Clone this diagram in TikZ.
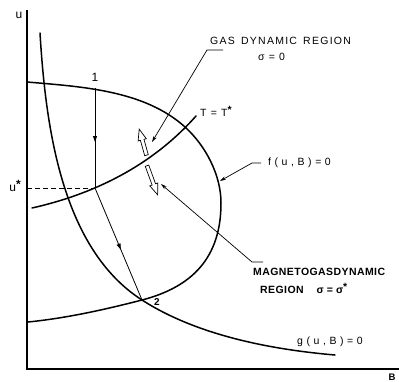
\documentclass[tikz,border=0pt]{standalone}
\usepackage{fontspec}
\setmainfont{Liberation Sans}
\newfontfamily\lblfont[LetterSpace=12]{Liberation Sans}
\newfontfamily\fnfont[LetterSpace=34]{Liberation Sans}
\newfontfamily\magfont[LetterSpace=4]{Liberation Sans}
\usetikzlibrary{arrows.meta,decorations.markings,shapes.arrows}
\begin{document}
\begin{tikzpicture}[x=1pt,y=-1pt,
  curve/.style={line width=1.5pt, line cap=round},
  axis/.style={line width=1.1pt},
  thinline/.style={line width=0.8pt},
  pointer/.style={line width=0.7pt, -{Stealth[length=6pt,width=3.5pt]}},
  lbl/.style={font=\lblfont\fontsize{10.5}{12}\selectfont, inner sep=0pt, anchor=west},
  fnlbl/.style={font=\fnfont\fontsize{10.5}{12}\selectfont, inner sep=0pt, anchor=west},
  mlbl/.style={font=\magfont\bfseries\fontsize{10.5}{12}\selectfont, inner sep=0pt, anchor=west},
  midarrow/.style={decoration={markings, mark=at position #1 with {\arrow{Triangle[length=6pt,width=4pt]}}}, postaction={decorate}},
  hollow/.style={draw, single arrow, line width=0.7pt, inner sep=1.5pt,
    single arrow head extend=2.4pt, single arrow tip angle=42, fill=white}
]
\useasboundingbox (0,0) rectangle (399,381);
% axes
\coordinate (ytop) at (27,10);
\coordinate (o) at (27,369);
\coordinate (xend) at (399,369);
\draw[axis] (ytop) -- (o) -- (xend);
\node[inner sep=0pt, font=\fontsize{12}{13}\selectfont] (ulab) at (19,15) {u};
\node[inner sep=0pt, font=\bfseries\fontsize{9.5}{10}\selectfont] (blab) at (392,377) {B};
\node[inner sep=0pt, font=\fontsize{12}{13}\selectfont] (uslab) at (15,186) {u\raisebox{3.5pt}{\bfseries *}};
% f(u,B)=0 curve
\draw[curve] (27,82) .. controls (82,86.7) and (144.3,90.2) .. (185,127)
  .. controls (205.7,145.8) and (221,175) .. (221,203)
  .. controls (221,258) and (192,287) .. (142,300)
  .. controls (104,309.8) and (66,318.2) .. (28,322);
% g(u,B)=0 curve
\draw[curve] (40,33) .. controls (45.7,128) and (62,248.7) .. (142,300)
  .. controls (196.6,335.1) and (270,349.4) .. (335,355);
% T = T* curve
\draw[curve] (32,208) .. controls (90,195) and (150,168) .. (196,116);
% process path
\coordinate (p1) at (95,88);
\coordinate (pm) at (95,188);
\coordinate (p2) at (142,300);
\coordinate (us) at (27,188);
\draw[thinline, midarrow=0.54] (p1) -- (pm);
\draw[thinline, midarrow=0.55] (pm) -- (p2);
\draw[thinline, dash pattern=on 5pt off 3pt] (us) -- (pm);
\node[inner sep=0pt, font=\fontsize{12}{13}\selectfont] (one) at (95,77) {1};
\node[inner sep=0pt, font=\bfseries\fontsize{10}{11}\selectfont] (two) at (157,302) {2};
% hollow double arrows
\node[hollow, minimum height=27pt, rotate=105.6] (hu) at (143.5,144.5) {};
\node[hollow, minimum height=31pt, rotate=-70] (hd) at (151.5,178) {};
% labels
\node[lbl] (gasA) at (210,41) {GAS\hspace{2pt} DYNAMIC\hspace{2pt} REGION};
\node[lbl] (gasB) at (258,57) {σ = 0};
\node[lbl] (tl) at (200,111) {T = T\raisebox{3pt}{\bfseries *}};
\node[fnlbl] (fl) at (268,163) {f(u,B)=0};
\node[mlbl] (mA) at (253,272) {MAGNETOGASDYNAMIC};
\node[mlbl] (mB) at (260,288) {REGION\hspace{13pt}σ\hspace{3pt}=\hspace{3pt}σ\raisebox{3pt}{*}};
\node[fnlbl] (gl) at (297,342) {g(u,B)=0};
% pointers
\coordinate (g1) at (223,50);
\coordinate (g2) at (207,50);
\coordinate (gt) at (152,142);
\draw[pointer] (g1) -- (g2) -- (gt);
\coordinate (f1) at (261,163);
\coordinate (f2) at (252,163);
\coordinate (ft) at (220,181);
\draw[pointer] (f1) -- (f2) -- (ft);
\coordinate (m1) at (263,262);
\coordinate (m2) at (252,262);
\coordinate (mt) at (161,184);
\draw[pointer] (m1) -- (m2) -- (mt);
\end{tikzpicture}
\end{document}
